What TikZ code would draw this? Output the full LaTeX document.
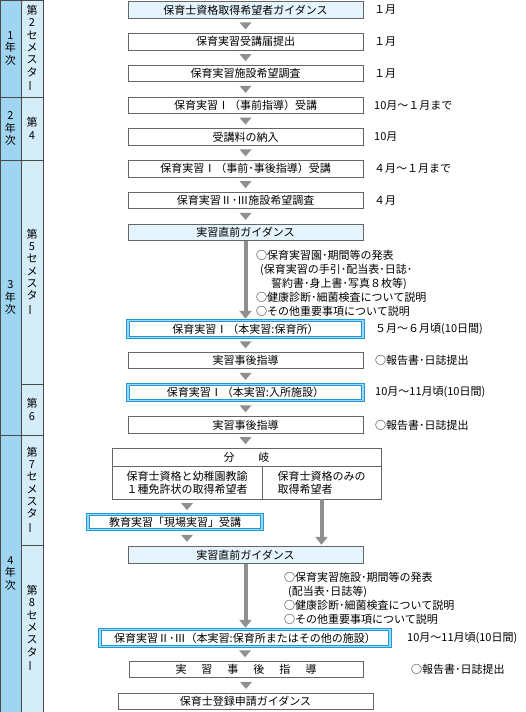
\documentclass[tikz,border=0pt]{standalone}
\usepackage{fontspec}
\setmainfont{Noto Sans CJK JP}
\usepackage{graphicx}
\usetikzlibrary{arrows.meta,calc}
\definecolor{boxgray}{HTML}{666666}
\definecolor{lightfill}{HTML}{E4F3FC}
\definecolor{bblue}{HTML}{1C9AD6}
\definecolor{blight}{HTML}{9AD8F5}
\definecolor{arrowgray}{HTML}{8F8F8F}
\definecolor{yearblue}{HTML}{9FD5F1}
\definecolor{semblue}{HTML}{D5EDF9}
\definecolor{cellline}{HTML}{4A4A4A}
\newcommand\fs{\fontsize{11}{13}\selectfont}
\newcommand\vb{\rotatebox[origin=c]{90}{ー}}
\newcommand\tri[1]{\fill[arrowgray] (#1) ++(-6,-3.5) -- ++(12,0) -- ++(-6,7) -- cycle;}
\begin{document}
\begin{tikzpicture}[x=1pt,y=-1pt,font=\fs,
  box/.style={draw=boxgray,line width=0.8pt,fill=white,minimum height=16.5pt,minimum width=235pt,inner sep=0pt},
  gbox/.style={box,fill=lightfill},
  bbox/.style={box,draw=bblue,double=blight,double distance=1.2pt,line width=0.95pt},
  cell/.style={draw=cellline,line width=0.7pt,inner sep=0pt,align=center,font=\fontsize{11}{12.3}\selectfont},
  yearcell/.style={cell,fill=yearblue,minimum width=21pt},
  semcell/.style={cell,fill=semblue,minimum width=22pt},
  rtext/.style={anchor=west,inner sep=0pt},
  note/.style={anchor=west,inner sep=0pt,align=left,font=\fontsize{11}{14}\selectfont},
  bigarrow/.style={draw=arrowgray,line width=4pt,-{Triangle[width=12pt,length=8pt]},shorten >=1.5pt}]
\useasboundingbox (0,0) rectangle (525,712);
% left column
\node[yearcell,minimum height=97pt] (y1) at (10.5,48.5) {1\\年\\次};
\node[yearcell,minimum height=63pt] (y2) at (10.5,128.5) {2\\年\\次};
\node[yearcell,minimum height=275pt] (y3) at (10.5,297.5) {3\\年\\次};
\node[yearcell,minimum height=277pt] (y4) at (10.5,573.5) {4\\年\\次};
\node[semcell,minimum height=97pt] (s1) at (32,48.5) {第\\2\\セ\\メ\\ス\\タ\\\vb};
\node[semcell,minimum height=63pt] (s2) at (32,128.5) {第\\4};
\node[semcell,minimum height=224pt] (s3) at (32,272) {第\\5\\セ\\メ\\ス\\タ\\\vb};
\node[semcell,minimum height=51pt] (s4) at (32,409.5) {第\\6};
\node[semcell,minimum height=110pt] (s5) at (32,490) {第\\7\\セ\\メ\\ス\\タ\\\vb};
\node[semcell,minimum height=167pt] (s6) at (32,628.5) {第\\8\\セ\\メ\\ス\\タ\\\vb};
% main boxes
\node[gbox] (b1) at (245.5,10) {保育士資格取得希望者ガイダンス};
\node[box] (b2) at (245.5,41.75) {保育実習受講届提出};
\node[box] (b3) at (245.5,73.5) {保育実習施設希望調査};
\node[box] (b4) at (245.5,105.25) {保育実習Ⅰ（事前指導）受講};
\node[box] (b5) at (245.5,137) {受講料の納入};
\node[box] (b6) at (245.5,168.75) {保育実習Ⅰ（事前･事後指導）受講};
\node[box] (b7) at (245.5,200.5) {保育実習Ⅱ･Ⅲ施設希望調査};
\node[gbox] (b8) at (245.5,232.25) {実習直前ガイダンス};
\node[bbox] (b9) at (245.5,329) {保育実習Ⅰ（本実習:保育所）};
\node[box] (b10) at (245.5,360.5) {実習事後指導};
\node[bbox] (b11) at (245.5,392.5) {保育実習Ⅰ（本実習:入所施設）};
\node[box] (b12) at (245.5,425) {実習事後指導};
% branch box
\node[box,minimum width=269pt,minimum height=18pt] (hd) at (246.5,457) {分\hspace{24pt}岐};
\node[box,minimum width=150pt,minimum height=33pt,align=left] (lc) at (187,482.5) {保育士資格と幼稚園教諭\\１種免許状の取得希望者};
\node[box,minimum width=119pt,minimum height=33pt,align=left] (rc) at (321.5,482.5) {保育士資格のみの\\取得希望者};
\node[bbox,minimum width=174pt,minimum height=15.5pt] (kyo) at (175,522) {教育実習「現場実習」受講};
\node[gbox] (g2) at (245.5,555) {実習直前ガイダンス};
\node[bbox,minimum width=290pt] (b18) at (245,638) {保育実習Ⅱ･Ⅲ（本実習:保育所またはその他の施設）};
\node[box,minimum width=234pt] (b19) at (246,669.5) {実\hspace{15pt}習\hspace{15pt}事\hspace{15pt}後\hspace{15pt}指\hspace{15pt}導};
\node[box,minimum width=255pt,minimum height=16pt] (b20) at (245.5,701) {保育士登録申請ガイダンス};
% small arrows
\tri{$(b1.south)!.5!(b2.north)$}
\tri{$(b2.south)!.5!(b3.north)$}
\tri{$(b3.south)!.5!(b4.north)$}
\tri{$(b4.south)!.5!(b5.north)$}
\tri{$(b5.south)!.5!(b6.north)$}
\tri{$(b6.south)!.5!(b7.north)$}
\tri{$(b7.south)!.5!(b8.north)$}
\tri{$(b9.south)!.5!(b10.north)$}
\tri{$(b10.south)!.5!(b11.north)$}
\tri{$(b11.south)!.5!(b12.north)$}
\tri{$(b12.south)!.5!(b12.south|-hd.north)$}
\tri{$(lc.south)!.5!(lc.south|-kyo.north)$}
\tri{$(lc.south|-kyo.south)!.5!(lc.south|-g2.north)$}
\tri{$(b18.south)!.5!(b18.south|-b19.north)$}
\tri{$(b19.south)!.5!(b19.south|-b20.north)$}
% long arrows
\draw[bigarrow] (b8.south) -- (b9.north);
\draw[bigarrow] (rc.south) -- (rc.south|-g2.north);
\draw[bigarrow] (g2.south) -- (g2.south|-b18.north);
% notes
\node[note] (n1) at (256,283) {○保育実習園･期間等の発表\\\hspace*{4pt}(保育実習の手引･配当表･日誌･\\\hspace*{15pt}誓約書･身上書･写真８枚等)\\○健康診断･細菌検査について説明\\○その他重要事項について説明};
\node[note] (n2) at (284,598) {○保育実習施設･期間等の発表\\\hspace*{4pt}(配当表･日誌等)\\○健康診断･細菌検査について説明\\○その他重要事項について説明};
% right texts
\node[rtext] (r1) at (374,10) {１月};
\node[rtext] (r2) at (374,41.75) {１月};
\node[rtext] (r3) at (374,73.5) {１月};
\node[rtext] (r4) at (374,105.25) {10月～１月まで};
\node[rtext] (r5) at (374,137) {10月};
\node[rtext] (r6) at (374,168.75) {４月～１月まで};
\node[rtext] (r7) at (374,200.5) {４月};
\node[rtext] (r9) at (375,329) {５月～６月頃(10日間)};
\node[rtext] (r10) at (375,360.5) {○報告書･日誌提出};
\node[rtext] (r11) at (375,392.5) {10月～11月頃(10日間)};
\node[rtext] (r12) at (375,425) {○報告書･日誌提出};
\node[rtext] (r18) at (407,638) {10月～11月頃(10日間)};
\node[rtext] (r19) at (411,669.5) {○報告書･日誌提出};
\end{tikzpicture}
\end{document}
